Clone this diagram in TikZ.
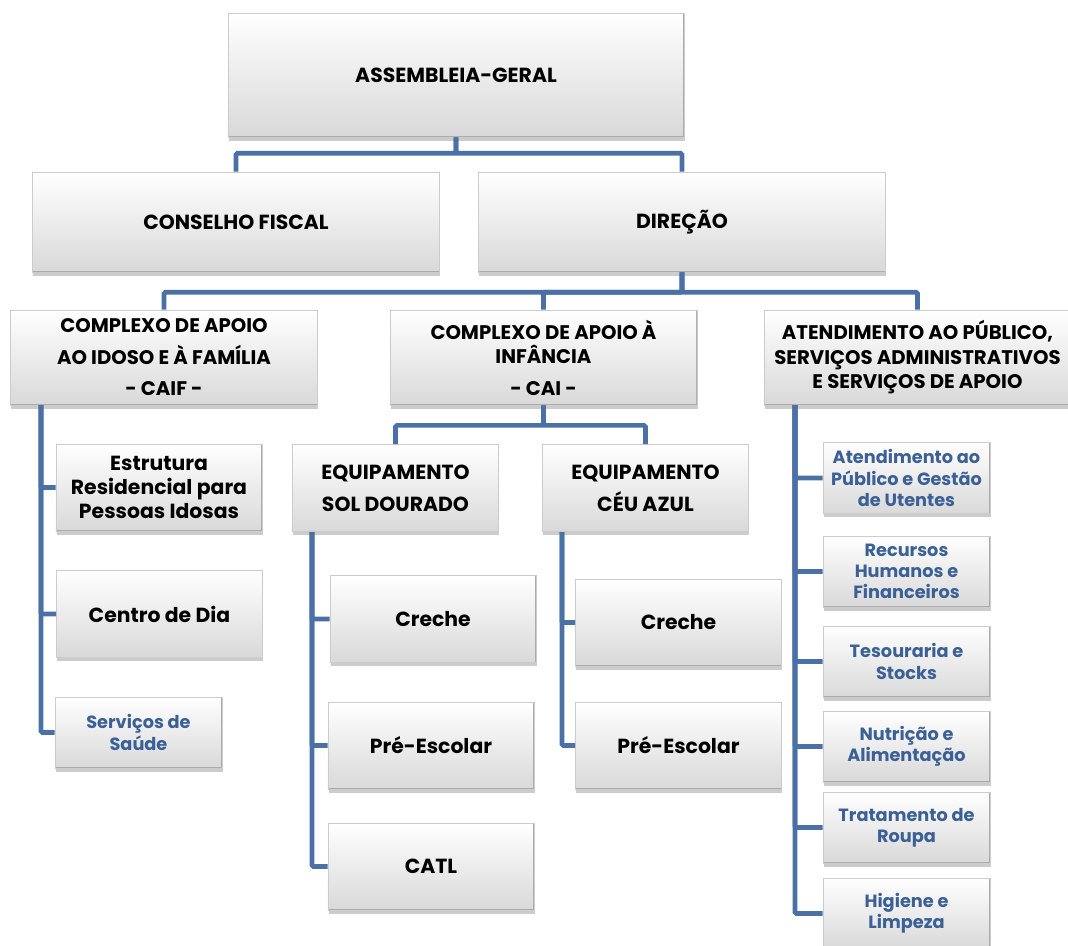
\documentclass[tikz,border=0pt]{standalone}
\usepackage{fontspec}
\setmainfont{Poppins}
\usetikzlibrary{shadows}
\definecolor{linkblue}{RGB}{74,112,166}
\definecolor{textblue}{RGB}{59,96,150}
\tikzset{
  box/.style={draw=gray!40, top color=white, bottom color=gray!30, align=center,
    inner sep=2pt, font=\bfseries,
    drop shadow={opacity=0.4, shadow xshift=0.5pt, shadow yshift=-2.5pt},
    path picture={\draw[gray!65, line width=1.3pt]
      (path picture bounding box.north east) -- (path picture bounding box.south east)
      -- (path picture bounding box.south west);}},
  lvlone/.style={minimum width=11.4cm, minimum height=3.1cm, font=\bfseries\fontsize{14.5}{17}\selectfont},
  lvltwo/.style={minimum width=10.18cm, minimum height=2.5cm, font=\bfseries\fontsize{14.5}{17}\selectfont},
  lvlthree/.style={minimum width=7.68cm, minimum height=2.38cm, font=\bfseries\fontsize{14}{17.4}\selectfont},
  lvlfour/.style={minimum width=5.15cm, minimum height=2.18cm, font=\bfseries\fontsize{14.5}{17}\selectfont},
  lvlfive/.style={minimum width=4.18cm, minimum height=1.78cm, text=textblue, font=\bfseries\fontsize{12.6}{15}\selectfont},
  link/.style={draw=linkblue, line width=3.3pt, rounded corners=1pt},
}

\begin{document}
\begin{tikzpicture}[x=0.025cm, y=-0.025cm]
    \useasboundingbox (0,0) rectangle (1068,946);
    % governing bodies
    \node[box, lvlone] (assembleia) at (456,75) {ASSEMBLEIA-GERAL};
    \node[box, lvltwo] (conselho) at (236,222) {CONSELHO FISCAL};
    \node[box, lvltwo] (direcao) at (682,222) {DIREÇÃO};
    % the three areas
    \node[box, lvlthree] (caif) at (164,357.5) {COMPLEXO DE APOIO\\[5pt]AO IDOSO E À FAMÍLIA\\[5pt]- CAIF -};
    \node[box, lvlthree] (cai) at (543.5,357.5) {COMPLEXO DE APOIO À\\INFÂNCIA\\[5pt]- CAI -};
    \node[box, lvlthree] (atend) at (917.5,357.5) {ATENDIMENTO AO PÚBLICO,\\SERVIÇOS ADMINISTRATIVOS\\E SERVIÇOS DE APOIO};
    % CAIF
    \node[box, lvlfour] (erpi) at (159,487.5) {Estrutura\\Residencial para\\Pessoas Idosas};
    \node[box, lvlfour] (centro) at (159.5,614) {Centro de Dia};
    \node[box, lvlfive] (saude) at (138.5,732.5) {Serviços de\\Saúde};
    % CAI
    \node[box, lvlfour] (sol) at (395.5,488) {EQUIPAMENTO\\[5.5pt]SOL DOURADO};
    \node[box, lvlfour] (ceu) at (645.5,488) {EQUIPAMENTO\\[5.5pt]CÉU AZUL};
    \node[box, lvlfour] (crecheS) at (433,619) {Creche};
    \node[box, lvlfour] (preS) at (431,745.5) {Pré-Escolar};
    \node[box, lvlfour] (catl) at (431,866.5) {CATL};
    \node[box, lvlfour] (crecheC) at (678.5,622.5) {Creche};
    \node[box, lvlfour] (preC) at (678.5,745.5) {Pré-Escolar};
    % services
    \node[box, lvlfive] (atpub) at (906.5,478) {Atendimento ao\\Público e Gestão\\de Utentes};
    \node[box, lvlfive] (rhf) at (906.5,571.5) {Recursos\\Humanos e\\Financeiros};
    \node[box, lvlfive] (tes) at (906.5,661.5) {Tesouraria e\\Stocks};
    \node[box, lvlfive] (nutr) at (906.5,746.5) {Nutrição e\\Alimentação};
    \node[box, lvlfive] (roupa) at (906.5,827.5) {Tratamento de\\Roupa};
    \node[box, lvlfive] (hig) at (906.5,913.5) {Higiene e\\Limpeza};

    % connectors
    \draw[link] (assembleia.south) -- ++(0,16) -| (conselho.north);
    \draw[link] (assembleia.south) -- ++(0,16) -| (direcao.north);
    \foreach \n in {caif,cai,atend}
        \draw[link] (direcao.south) -- ++(0,20) -| (\n.north);
    \foreach \n in {sol,ceu}
        \draw[link] (cai.south) -- ++(0,20) -| (\n.north);
    \coordinate (caiftop) at (41,405);
    \coordinate (soltop) at (312,532);
    \coordinate (ceutop) at (562,532);
    \coordinate (atendtop) at (795,405);
    \foreach \n in {erpi,centro,saude}
        \draw[link] (caiftop) |- (\n.west);
    \foreach \n in {crecheS,preS,catl}
        \draw[link] (soltop) |- (\n.west);
    \foreach \n in {crecheC,preC}
        \draw[link] (ceutop) |- (\n.west);
    \foreach \n in {atpub,rhf,tes,nutr,roupa,hig}
        \draw[link] (atendtop) |- (\n.west);
\end{tikzpicture}
\end{document}
